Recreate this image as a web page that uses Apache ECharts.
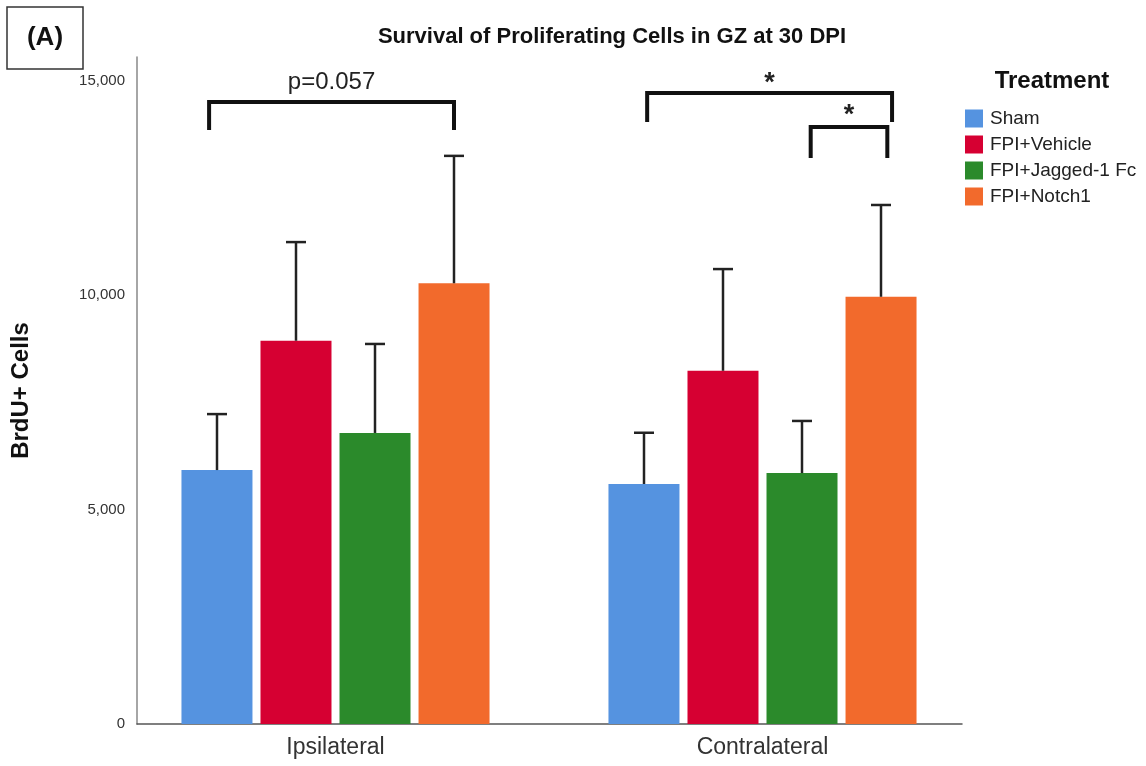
<!DOCTYPE html>
<html>
<head>
<meta charset="utf-8">
<script src="https://cdn.jsdelivr.net/npm/echarts@6/dist/echarts.min.js"></script>
<style>html,body{margin:0;padding:0;background:#fff}#c{width:1146px;height:766px}</style>
</head>
<body>
<div id="c"></div>
<script>
const categories = ['Ipsilateral', 'Contralateral'];
const treatments = ['Sham', 'FPI+Vehicle', 'FPI+Jagged-1 Fc', 'FPI+Notch1'];
const shamMean = [5920, 5595];
const shamUpper = [7225, 6790];
const vehicleMean = [8935, 8235];
const vehicleUpper = [11235, 10606];
const jaggedMean = [6785, 5850];
const jaggedUpper = [8860, 7065];
const notchMean = [10275, 9960];
const notchUpper = [13245, 12100];
const yTicks = [0, 5000, 10000, 15000];
// brackets: [category, leftSlot, rightSlot, topValue, legBottomValue, labelValue, label]
const brackets = [
  [0, -0.10, 3.00, 14500, 13850, 14965, 'p=0.057'],
  [1, 0.04, 3.14, 14710, 14035, 14942, '*'],
  [1, 2.11, 3.08, 13916, 13193, 14196, '*']
];

const means = [shamMean, vehicleMean, jaggedMean, notchMean];
const uppers = [shamUpper, vehicleUpper, jaggedUpper, notchUpper];
const colors = ['#5593E0', '#D60032', '#2B8A2B', '#F26A2C'];
const BAR_W = 71, GAP = 8, STEP = BAR_W + GAP;
const FONT = 'Liberation Sans, Arial, sans-serif';
const YMAX = 15550;

const chart = echarts.init(document.getElementById('c'));

const series = [];
treatments.forEach((name, k) => {
  series.push({
    name: name, type: 'bar', xAxisIndex: 0, yAxisIndex: 0,
    barWidth: BAR_W, barGap: (GAP / BAR_W * 100).toFixed(1) + '%',
    itemStyle: {color: colors[k]},
    data: means[k], z: 2
  });
});
treatments.forEach((name, k) => {
  series.push({
    type: 'custom', xAxisIndex: 0, yAxisIndex: 0, z: 3, silent: true,
    data: categories.map((c, i) => [i, means[k][i], uppers[k][i]]),
    renderItem: function (params, api) {
      const base = api.coord([api.value(0), api.value(1)]);
      const top = api.coord([api.value(0), api.value(2)]);
      const x = base[0] + (k - 1.5) * STEP;
      const st = {stroke: '#222', lineWidth: 2.5};
      return {type: 'group', children: [
        {type: 'line', shape: {x1: x, y1: base[1], x2: x, y2: top[1]}, style: st},
        {type: 'line', shape: {x1: x - 10, y1: top[1], x2: x + 10, y2: top[1]}, style: st}
      ]};
    }
  });
});
series.push({
  type: 'custom', xAxisIndex: 0, yAxisIndex: 0, z: 4, silent: true, clip: false,
  data: brackets,
  renderItem: function (params, api) {
    const b = brackets[params.dataIndex];
    const c = api.coord([b[0], b[3]]);
    const xl = c[0] + (b[1] - 1.5) * STEP;
    const xr = c[0] + (b[2] - 1.5) * STEP;
    const yt = c[1];
    const yb = api.coord([b[0], b[4]])[1];
    const yl = api.coord([b[0], b[5]])[1];
    const isStar = b[6] === '*';
    return {type: 'group', children: [
      {type: 'polyline', shape: {points: [[xl, yb], [xl, yt], [xr, yt], [xr, yb]]},
        style: {stroke: '#111', lineWidth: 4, fill: null}},
      {type: 'text', x: (xl + xr) / 2, y: yl,
        style: {text: b[6], fill: '#222', align: 'center', verticalAlign: 'middle',
          font: (isStar ? 'bold 27px ' : '24px ') + FONT}}
    ]};
  }
});

chart.setOption({
  animation: false,
  backgroundColor: '#fff',
  textStyle: {fontFamily: FONT},
  grid: [
    {left: 122, right: 170, top: 57, bottom: 42},
    {left: 137, right: 184, top: 57, bottom: 42}
  ],
  xAxis: [
    {type: 'category', gridIndex: 0, data: categories,
      axisLine: {show: false}, axisTick: {show: false},
      axisLabel: {fontSize: 23, color: '#333', margin: 12, fontFamily: FONT}},
    {type: 'value', gridIndex: 1, min: 0, max: 1,
      axisLine: {show: true, lineStyle: {color: '#555', width: 1.5}},
      axisTick: {show: false}, axisLabel: {show: false}, splitLine: {show: false}}
  ],
  yAxis: [
    {type: 'value', gridIndex: 0, min: 0, max: YMAX, show: false},
    {type: 'value', gridIndex: 1, min: 0, max: YMAX, interval: 5000,
      name: 'BrdU+ Cells', nameLocation: 'middle', nameGap: 104, nameRotate: 90,
      nameTextStyle: {fontSize: 24, fontWeight: 'bold', color: '#111', fontFamily: FONT},
      axisLine: {show: true, lineStyle: {color: '#888', width: 1.5}},
      axisTick: {show: false}, splitLine: {show: false},
      axisLabel: {fontSize: 15, color: '#333', margin: 12, fontFamily: FONT,
        formatter: v => yTicks.indexOf(v) >= 0 ? v.toLocaleString('en-US') : ''}}
  ],
  legend: {
    data: treatments, orient: 'vertical', left: 960, top: 104,
    itemWidth: 18, itemHeight: 18, itemGap: 7, icon: 'rect', selectedMode: false,
    textStyle: {fontSize: 19, color: '#222', fontFamily: FONT, padding: [0, 0, 0, 2]}
  },
  graphic: [
    {type: 'rect', shape: {x: 7, y: 7, width: 76, height: 62},
      style: {fill: '#fff', stroke: '#333', lineWidth: 1.5}},
    {type: 'text', x: 45, y: 38, style: {text: '(A)', font: 'bold 26px ' + FONT,
      fill: '#111', align: 'center', verticalAlign: 'middle'}},
    {type: 'text', x: 612, y: 37, style: {text: 'Survival of Proliferating Cells in GZ at 30 DPI',
      font: 'bold 22px ' + FONT, fill: '#111', align: 'center', verticalAlign: 'middle'}},
    {type: 'text', x: 1052, y: 81, style: {text: 'Treatment', font: 'bold 24px ' + FONT,
      fill: '#111', align: 'center', verticalAlign: 'middle'}}
  ],
  series: series
});
</script>
</body>
</html>
